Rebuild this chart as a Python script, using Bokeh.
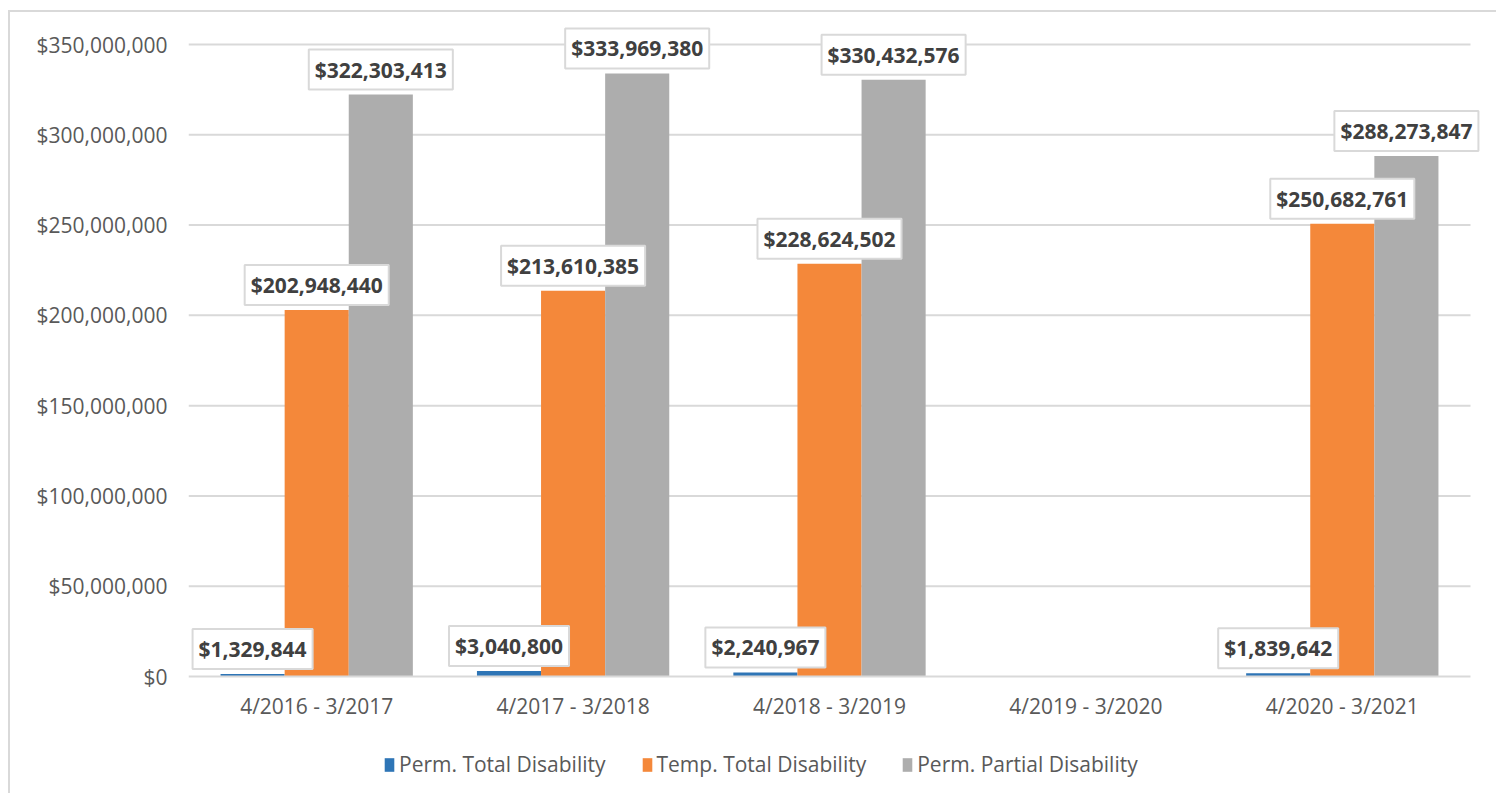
import numpy as np
from bokeh.plotting import figure
from bokeh.models import (ColumnDataSource, Range1d, NumeralTickFormatter, LinearAxis,
                          Label, Legend, LegendItem, FixedTicker)
from bokeh.embed import file_html
from bokeh.resources import INLINE

# ---- data ----
periods = ["4/2016 - 3/2017", "4/2017 - 3/2018", "4/2018 - 3/2019", "4/2019 - 3/2020", "4/2020 - 3/2021"]
perm_total = [1329844, 3040800, 2240967, np.nan, 1839642]
temp_total = [202948440, 213610385, 228624502, np.nan, 250682761]
perm_partial = [322303413, 333969380, 330432576, np.nan, 288273847]
series_names = ["Perm. Total Disability", "Temp. Total Disability", "Perm. Partial Disability"]
y_ticks = [0, 50_000_000, 100_000_000, 150_000_000, 200_000_000, 250_000_000, 300_000_000, 350_000_000]

colors = ["#2E75B6", "#F4883A", "#ADADAD"]
offsets = [-0.25, 0.0, 0.25]
FONT = "Open Sans"
GRID = "#D9D9D9"

n = len(periods)
pos = list(range(1, n + 1))  # category slots on the x scale
src = ColumnDataSource(dict(pos=pos, s0=perm_total, s1=temp_total, s2=perm_partial))

# frame spans full height and reaches the right edge, so labels/legend are not clipped;
# 0 sits at 676 px and 350M at 44 px of the window; category slots are 256.4 px wide
PX = 632 / 350_000_000
Y_TOP = (676 - 12) / PX
Y_BOT = -(795 - 676) / PX
X_END = n + 0.5 + 28 / 256.4

p = figure(width=1488, height=783, x_range=Range1d(0.5, X_END), y_range=Range1d(Y_BOT, Y_TOP),
           output_backend="svg", toolbar_location=None, x_axis_location=None,
           min_border_left=178, min_border_right=0, min_border_top=0, min_border_bottom=0)
p.margin = (10, 0, 0, 8)
p.styles = {"border-left": "2px solid #D9D9D9", "border-top": "2px solid #D9D9D9"}
p.outline_line_color = None
p.background_fill_color = "white"
p.border_fill_color = "white"
p.xgrid.grid_line_color = None
p.ygrid.grid_line_color = None

# horizontal gridlines over the category span only
p.segment(x0=0.5, x1=n + 0.5, y0=y_ticks[1:], y1=y_ticks[1:], line_color=GRID, line_width=2)

renderers = []
for k, key in enumerate(["s0", "s1", "s2"]):
    xs = [q + offsets[k] for q in pos]
    s = ColumnDataSource(dict(x=xs, top=src.data[key]))
    r = p.vbar(x="x", top="top", width=0.25, source=s, fill_color=colors[k], line_color=None)
    renderers.append(r)

# y axis
p.yaxis.ticker = FixedTicker(ticks=y_ticks)
p.yaxis.formatter = NumeralTickFormatter(format="$0,0")
p.yaxis.axis_line_color = None
p.yaxis.major_tick_line_color = None
p.yaxis.minor_tick_line_color = None
p.yaxis.major_label_standoff = 15
p.yaxis.major_label_text_font = FONT
p.yaxis.major_label_text_font_size = "21px"
p.yaxis.major_label_text_color = "#595959"

# x axis fixed at y = 0, labelled with the periods
xaxis = LinearAxis(fixed_location=0, bounds=(0.5, n + 0.5), ticker=FixedTicker(ticks=pos),
                   major_label_overrides={q: lab for q, lab in zip(pos, periods)})
xaxis.axis_line_color = GRID
xaxis.axis_line_width = 2
xaxis.major_tick_line_color = None
xaxis.minor_tick_line_color = None
xaxis.major_label_standoff = 9
xaxis.major_label_text_font = FONT
xaxis.major_label_text_font_size = "21px"
xaxis.major_label_text_color = "#595959"
p.add_layout(xaxis, "below")

# data labels
all_series = [perm_total, temp_total, perm_partial]
for k, vals in enumerate(all_series):
    for i, v in enumerate(vals):
        if v is None or np.isnan(v):
            continue
        lab = Label(x=pos[i] + offsets[k], y=v, text=f"${v:,.0f}", text_align="center",
                    text_baseline="middle", y_offset=25, padding=6,
                    background_fill_color="white", border_line_color=GRID, border_line_width=2,
                    text_font=FONT, text_font_style="bold", text_font_size="21px",
                    text_color="#404040")
        p.add_layout(lab)

# legend
items = [LegendItem(label=series_names[k], renderers=[renderers[k]]) for k in range(3)]
legend = Legend(items=items, orientation="horizontal", location=(195, 17),
                glyph_width=12, glyph_height=17, label_standoff=4, spacing=35,
                padding=0, margin=0, border_line_color=None, background_fill_alpha=0,
                label_text_font=FONT, label_text_font_size="21px", label_text_color="#595959")
p.add_layout(legend, "center")

open("out.html", "w").write(file_html(p, INLINE))
